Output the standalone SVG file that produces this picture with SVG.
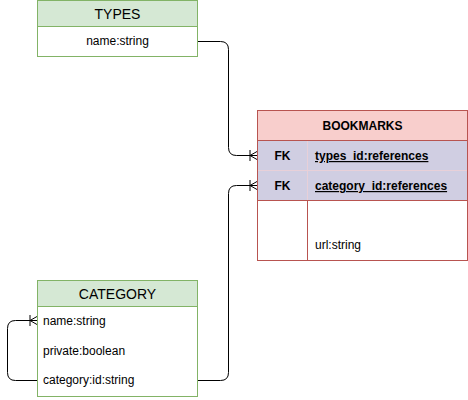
<svg xmlns="http://www.w3.org/2000/svg" width="468" height="400" viewBox="0 0 468 400">
<defs>
<style>
text{font-family:"Liberation Sans",Arial,sans-serif;fill:#000}
.t{font-size:14px}
.f{font-size:12px}
.b{font-weight:bold}
.conn{fill:none;stroke:#000;stroke-width:1}
</style>
<marker id="many" markerUnits="userSpaceOnUse" markerWidth="12" markerHeight="12" refX="10" refY="6" orient="auto" viewBox="0 0 12 12">
<path d="M3,0.5 V11.5 M3,6 L10,2 M3,6 L10,10 M3,6 H10" fill="none" stroke="#000" stroke-width="1"/>
</marker>
</defs>
<rect width="468" height="400" fill="#fff"/>
<g id="connectors">
<path class="conn" d="M197.5,41.5 H220.5 Q228.5,41.5 228.5,49.5 V147.5 Q228.5,155.5 236.5,155.5 H257" marker-end="url(#many)"/>
<path class="conn" d="M197.5,380.5 H220.5 Q228.5,380.5 228.5,372.5 V193.5 Q228.5,185.5 236.5,185.5 H257" marker-end="url(#many)"/>
<path class="conn" d="M37.5,380.5 H15.5 Q7.5,380.5 7.5,372.5 V328.5 Q7.5,320.5 15.5,320.5 H37" marker-end="url(#many)"/>
</g>
<g id="types">
<rect x="37.5" y="0.5" width="160" height="56" fill="#fff" stroke="#82b366"/>
<rect x="37.5" y="0.5" width="160" height="26" fill="#d5e8d4" stroke="#82b366"/>
<text class="t" x="117.5" y="19" text-anchor="middle">TYPES</text>
<text class="f" x="117.5" y="45" text-anchor="middle">name:string</text>
</g>
<g id="bookmarks">
<rect x="257.5" y="110.5" width="210" height="150" fill="#fff" stroke="#b85450"/>
<rect x="257.5" y="110.5" width="210" height="30" fill="#f8cecc" stroke="#b85450"/>
<rect x="258" y="141" width="209" height="59" fill="#d0cee2"/>
<line x1="258" y1="170.5" x2="467" y2="170.5" stroke="#e8d0d8"/>
<line x1="258" y1="200.5" x2="467" y2="200.5" stroke="#b85450"/>
<line x1="307.5" y1="141" x2="307.5" y2="200" stroke="#e8d0d8"/>
<line x1="307.5" y1="200.5" x2="307.5" y2="260" stroke="#b85450"/>
<text class="f b" x="362.5" y="130" text-anchor="middle">BOOKMARKS</text>
<text class="f b" x="282.5" y="160" text-anchor="middle">FK</text>
<text class="f b" x="315" y="160" text-decoration="underline">types_id:references</text>
<text class="f b" x="282.5" y="190" text-anchor="middle">FK</text>
<text class="f b" x="315" y="190" text-decoration="underline">category_id:references</text>
<text class="f" x="315" y="249">url:string</text>
</g>
<g id="category">
<rect x="37.5" y="280.5" width="160" height="116" fill="#fff" stroke="#82b366"/>
<rect x="37.5" y="280.5" width="160" height="26" fill="#d5e8d4" stroke="#82b366"/>
<text class="t" x="117.5" y="299" text-anchor="middle">CATEGORY</text>
<text class="f" x="43" y="325">name:string</text>
<text class="f" x="43" y="355">private:boolean</text>
<text class="f" x="43" y="384">category:id:string</text>
</g>
</svg>
